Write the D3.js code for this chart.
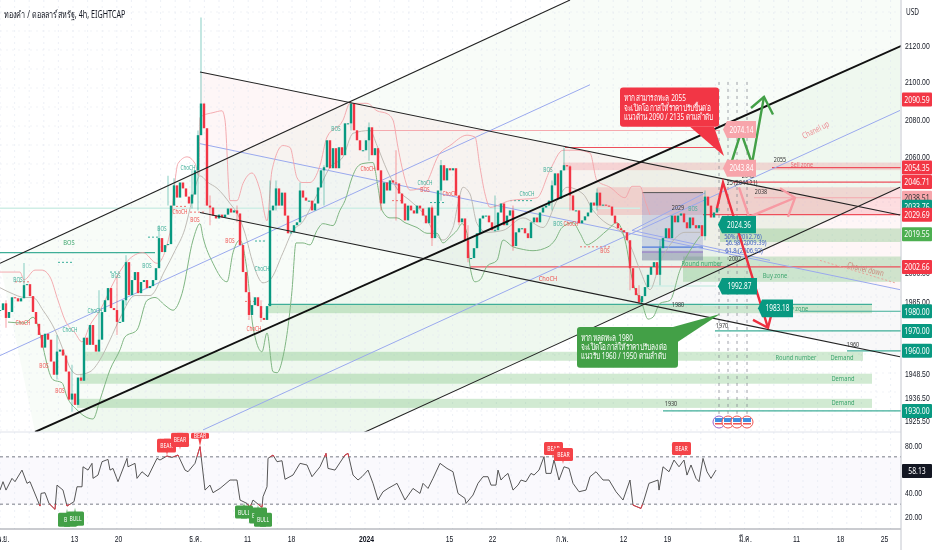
<!DOCTYPE html>
<html>
<head>
<meta charset="utf-8">
<script src="https://cdn.jsdelivr.net/npm/d3@7"></script>
<style>
  html, body { margin: 0; padding: 0; background: #fff; }
  svg { display: block; filter: blur(0.35px); font-family: "Noto Sans", "Liberation Sans", sans-serif; }
  .axis text { fill: #131722; font-size: 9.5px; }
  .axis .domain, .axis line { display: none; }
</style>
</head>
<body>
<svg id="chart" width="932" height="550"></svg>
<script>
// Time is counted in slots along the chart, one candle is three slots
const candleStep = 3;

// Candle closes (each opens at the previous close)
const closes = [
  1980.6,1984,1976.6,1979.6,1987.1,1986.6,1985,1986.6,1993.3,1993.8,1987.7,1979.6,1973.6,1968,1961.6,1968.6,1965.6,1954.6,1948,1959.6,
  1960.6,1957.6,1949.6,1935.6,1938.6,1933,1946.6,1945,1966.6,1963,1973,1963,1959.6,1965.6,1979.6,1985.6,1991.8,1981.6,1980.6,1974.6,
  1974.6,1985.6,2005.1,1988.2,1995.9,2000,1989.2,1994.9,1995.9,1991.8,1992.8,1995.9,2002,2017.5,2010.3,2013.9,2014.4,2034.4,2045,2038.6,
  2046.5,2043.4,2039.1,2035.5,2040.2,2052.9,2071.5,2088.4,2075.2,2034.4,2033.4,2029.2,2027.7,2029.7,2028.2,2029.7,2032.9,2030.8,2031.9,2030.3,
  2013.9,2000,1989.7,1978.1,1983.1,1987.1,1982.6,1976.6,1975.6,1982.6,2031.9,2034.4,2043.4,2034.4,2041.2,2029.2,2020,2020.5,2024.2,2025.7,
  2042.3,2038.6,2037,2037,2031.9,2035.5,2043.9,2052.9,2054.5,2068.8,2054,2064.6,2054,2065.1,2060.9,2077.8,2077.8,2088.4,2074.1,2068.8,
  2063.5,2063.5,2068.8,2075.7,2060.9,2064.6,2052.9,2035.5,2046.5,2042.3,2047.6,2046.5,2046,2040.7,2035.5,2026.7,2034.4,2031.9,2030.3,2034.4,
  2032.9,2029.2,2025.2,2033.4,2017.5,2029.2,2042.3,2055.6,2047.6,2054,2052.9,2054,2039.7,2025.7,2027.7,2016.4,2007.2,2007.2,2012.3,2020,
  2027.7,2029.2,2029.2,2025.7,2021.6,2021.6,2030.8,2035.5,2024.2,2029.2,2031.9,2013.4,2020.5,2022.6,2022.6,2020,2017.5,2025.7,2028.2,2025.7,
  2030.8,2033.4,2034.4,2037,2045,2051.3,2038,2052.9,2055.6,2055,2039.7,2031.9,2031.9,2025.2,2026.7,2028.8,2030.8,2036,2034.4,2041.2,
  2034.4,2034.9,2034.4,2033.9,2029.2,2025.2,2022.6,2021.6,2020.5,2016.4,2002,1991.8,1988.2,1984.6,1987.7,1992.3,1998.6,2002.6,2005.1,1998.6,
  2012.3,2017.5,2022.6,2017.5,2029.2,2025.7,2029.2,2030.3,2025.7,2022.6,2028.2,2024.2,2022.6,2024.2,2018.5,2039.1,2034.4,2028.2,2030.8,2033.4
];

// The wicks that stand out: [candle, high, low]
const wicks = [
  [2,1985.6,1971.6],[8,2004.6,1990.7],[19,1968,1945.6],[24,1953,1929.6],[33,1990.7,1963],[39,1998.4,1968],[42,2008.7,1983],
  [53,2024.2,2005],[56,2050,2034.4],[58,2048.7,2037],[64,2052.9,2032.9],[66,2074,2031.9],[67,2135,2075],[70,2039.7,2024.2],
  [79,2034.4,2025.7],[83,1987.1,1975.6],[87,1985.6,1974.6],[90,2047.6,1983],[92,2047.6,2031.9],[100,2046.5,2034.4],[108,2055.6,2034.4],
  [117,2088.4,2074],[123,2078.3,2058],[127,2048.7,2031.9],[132,2063.5,2026.7],[144,2034.4,2013.4],[147,2058.3,2037],[153,2039.7,2024.2],
  [156,2024.2,2005],[165,2039.7,2021.6],[171,2034.4,2011],[184,2047.6,2031.9],[188,2065,2052.9],[190,2055.6,2031.9],[199,2043.4,2031.9],
  [210,2005,1990.7],[213,1993.3,1983.6],[220,2016.4,1993.3],[235,2042.3,2016.4]
];

// Indicator bands: [slot, price]
const upperBand = [[0,2000],[20,2000],[24,1996],[35,2001],[42,2001],[50,1997.5],[58,1985.5],[65,1975.5],[75,1969],[82,1964.5],[90,1973],[100,1980.5],[115,1996],[128,2006],[143,2010],[157,2004.5],[170,2020.5],[174,2042.5],[178,2056.5],[187,2060],[195,2056.5],[199,2050],[200,2081],[203,2082],[213,2083.5],[222,2084.5],[225,2079.5],[230,2037],[237,2037],[243,2046],[252,2051.5],[260,2042.5],[267,2026.5],[272,2053],[283,2066],[290,2065],[297,2049],[302,2046.5],[310,2046.5],[320,2055.5],[327,2070.5],[343,2079.5],[350,2088.5],[367,2088.5],[377,2084.5],[387,2083],[393,2079.5],[398,2065],[402,2054.5],[410,2042.5],[423,2044],[440,2062],[450,2066],[467,2071.5],[475,2070.5],[480,2054.5],[485,2040.5],[490,2033.5],[510,2037],[537,2038.5],[550,2053],[563,2063.5],[577,2063.5],[590,2062],[597,2047.5],[610,2044],[625,2038.5],[632,2044.5],[640,2044.5],[645,2037],[650,2029.5]];
const middleBand = [[0,1992],[10,1989.5],[25,1987],[33,1987],[43,1980.5],[55,1970.5],[65,1958],[70,1951.5],[78,1948],[90,1949.5],[100,1955.5],[110,1965.5],[120,1976.5],[135,1988],[150,1988],[165,2001],[175,2011],[185,2022.5],[192,2037],[200,2050],[208,2046.5],[217,2043.5],[230,2035.5],[238,2029.5],[245,2020],[253,2004.5],[263,1994.5],[270,1996],[283,2010],[293,2021.5],[302,2025.5],[315,2038],[330,2054.5],[343,2060],[353,2072.5],[370,2074],[377,2066],[387,2053],[398,2042.5],[410,2037],[423,2030.5],[435,2020],[443,2016.5],[453,2023],[458,2035.5],[463,2044],[470,2040.5],[477,2025],[487,2020.5],[503,2021.5],[523,2028],[543,2023],[557,2037],[567,2044],[583,2040.5],[593,2032],[607,2025],[617,2022.5],[630,2014],[640,2001],[650,1991],[660,2005],[670,2014],[685,2020.5],[700,2020.5]];
const lowerBand = [[8,1974.5],[25,1974],[33,1977],[53,1945.5],[62,1944],[67,1937],[77,1930.5],[93,1926],[100,1935.5],[110,1950.5],[120,1960.5],[125,1967],[137,1970.5],[147,1985.5],[155,1987],[165,1983],[173,1980.5],[182,1989],[193,2016.5],[200,2025],[203,2018],[213,2004.5],[227,1995],[233,2010],[240,2016.5],[247,2001],[253,1972],[262,1959.5],[267,1969],[273,1949.5],[277,1949],[283,1957],[292,1990.5],[296,2015],[303,2015],[310,2014],[317,2021.5],[323,2025],[333,2024],[340,2032],[345,2037],[352,2049],[357,2054.5],[363,2056.5],[373,2057],[378,2044],[382,2032],[390,2028],[397,2028],[405,2025.5],[417,2023],[427,2020],[437,2020],[443,2015],[450,2018],[457,2021.5],[462,2025],[467,2020],[470,2003],[475,1995],[480,1996],[487,2003],[497,2006],[503,2016.5],[513,2013],[520,2012],[533,2011],[548,2013],[555,2016.5],[562,2023],[573,2025.5],[580,2020],[587,2014],[593,2015.5],[607,2021.5],[617,2025.5],[625,2016.5],[633,1994.5],[642,1984],[648,1976],[653,1977],[660,1984],[670,1985.5],[680,2001],[690,2011],[700,2018.5]];

// RSI pane: [slot, value]
const rsiLine = [[0,41.9],[3,49],[6,41.9],[12,51.8],[15,49],[22,58.8],[27,47.6],[30,49],[40,28.4],[41,39.1],[45,39.7],[49,30.6],[55,25.6],[57,46.1],[63,41.9],[67,28.4],[74,32.1],[77,44.7],[82,44.7],[83,61.6],[88,58.8],[92,64.5],[93,51.8],[98,54.6],[102,65.9],[108,67.8],[110,58.8],[113,60.2],[118,49],[127,68.7],[128,61.6],[135,64.5],[137,51.8],[142,57.4],[148,53.2],[157,68.7],[160,67.3],[167,70.7],[172,69.5],[178,71.5],[185,58.8],[188,57.4],[195,64.5],[200,78.6],[205,41.9],[210,46.1],[213,39.7],[220,43.3],[230,50.4],[237,50.4],[240,33.5],[247,30.6],[250,27.3],[253,33.5],[262,27.3],[263,36.3],[267,44.7],[268,68.7],[273,71.5],[277,65.9],[282,66.7],[285,51],[293,54.6],[300,64.5],[307,63.1],[312,53.2],[320,61.6],[326,72.9],[328,60.2],[335,58.8],[345,71.5],[348,72.9],[353,54.6],[358,50.4],[362,53.2],[368,58.8],[373,47.6],[378,33.5],[383,40.5],[388,43.3],[397,47.6],[405,33.5],[413,43.3],[420,39.1],[423,47.6],[428,43.3],[433,51.8],[440,64.5],[447,60.2],[453,57.4],[458,39.1],[465,34.9],[466,30.6],[473,37.7],[478,47.6],[483,53.2],[488,53.2],[491,46.1],[496,46.1],[498,58.8],[501,50.4],[504,53.2],[508,56],[513,41.9],[518,46.1],[521,50.4],[526,49],[531,56],[534,54.6],[539,58.8],[544,70.1],[546,56],[551,56],[554,67.3],[559,50.4],[564,61.6],[569,60.2],[573,47.6],[579,40.5],[586,41.9],[590,53.2],[596,57.4],[603,50.4],[609,50.4],[616,40.5],[623,33.5],[630,50.4],[633,29.2],[641,26.4],[644,33.5],[649,47.6],[658,50.4],[659,41.9],[663,61.6],[669,57.4],[674,67.3],[679,61.6],[684,67.3],[687,54.6],[691,63.1],[696,51.8],[699,49],[703,68.7],[707,57.4],[711,51.8],[716,58.8]];

// RSI signal tags: [left slot, right slot, top value, bottom value, tip slot, tip value, text]
const bearTags = [[157,176,85.2,73.6,167,71,"BEAR"],[171,189,90.4,78.3,180,76,"BEAR"],[191,209,90.4,85.2,200,79,"BEAR"],[544,563,82.5,71.5,553,69,"BEAR"],[554,573,77.4,66.4,563,64,"BEAR"],[672,691,82.5,71.5,681,69,"BEAR"]];
const bullTags = [[58,77,22.8,11,67,26.2,"BU"],[67,84,23.7,11.8,75,27,"BULL"],[235,253,28.8,17.8,244,31.5,"BULL"],[249,267,27.1,13.6,258,29.5,"BULL"],[254,272,22.8,11,263,26,"BULL"]];

// Axis ticks
const priceTicks = [2120,2100,2080,2060,2000,1985,1972,1948.5,1936.5,1925.5];
const rsiTicks = [80,40,20];
const timeTickSlots = [3,74,118,195,247,291,366,449,492,562,623,667,745,796,840,884];
const timeTickLabels = ["พ.ย.","13","20","ธ.ค.","11","18","2024","15","22","ก.พ.","12","19","มี.ค.","11","18","25"];

// Price tags on the right axis: [price, text]
const redTags = [[2090.59,"2090.59"],[2054.35,"2054.35"],[2046.71,"2046.71"],[2029.69,"2029.69"],[2002.66,"2002.66"]];
const tealTags = [[2033.76,"2033.76"],[1980,"1980.00"],[1970,"1970.00"],[1960,"1960.00"],[1930,"1930.00"]];

// Channel lines: [slot, price, slot, price]
const thickLine = [35,1919.6,930,2126.5];
const thinLines = [[0,2004.5,570,2144.6],[358,1918,900,2044],[200,2105.4,900,2029.5],[200,2030.8,900,1957]];
const blueLines = [[200,2067,900,1991],[0,1957.6,590,2098.5],[203,1920.6,900,2084.7],[632,2021.5,705,2041],[632,2021.5,770,2006]];

// Zones: [slot, slot, top price, bottom price]
const buyZones = [[268,872,1983.5,1979],[84,863,1959.5,1955],[80,872,1948.5,1943.5],[77,872,1936,1931.5],[683,901,2008,1995],[720,901,2022.5,2015.5]];
const sellZones = [[563,901,2057,2053],[597,901,2044,2033.5],[597,901,2033.5,2029.5]];

// Level lines: [slot, slot, price]
const redLevels = [[565,720,2065],[470,901,2002.66],[772,901,2054.35],[703,901,2029.69],[733,901,2046.71]];
const pinkLevels = [[370,720,2074],[754,901,2038.51]];
const tealLevels = [[0,155,2010],[268,872,1983.5],[800,901,1980],[715,901,1970],[847,901,1960],[663,901,1930]];
const paleLevels = [[0,640,2033],[650,716,1992.87],[703,745,1983]];

// Dashed swing markers: [slot, slot, price]
const redSwings = [[15,30,1995],[176,186,2034],[190,205,2031],[580,610,2013],[392,402,2037],[245,258,1985]];
const tealSwings = [[510,533,2037],[58,72,2005],[110,120,2000],[430,445,2036],[148,160,2018],[255,265,2016]];

// News markers on the time line
const newsSlots = [719,728,737,747];

// Arrows: list of [slot, price]
const redArrow = [[717,2033],[723,2046.5],[768,1971.6]];
const redArrowHead = [[753,1975.6],[768,1971.6],[773,1981.6]];
const greenArrow = [[732,2058],[741,2073],[752,2056.5],[764,2092]];
const greenArrowHead = [[751,2086],[764,2092],[773,2082.5]];
const pinkArrow = [[739,2044],[749,2028.5],[795,2038.5]];
const pinkArrowHead = [[780,2043.5],[795,2038.5],[788,2028.5]];

// Small structure labels: [text, slot, price]
const tealNotes = [["BOS",18,1996],["BOS",116,1998],["BOS",147,2003],["BOS",162,2022.5],["ChoCH",95,1980],["ChoCH",70,1970.5],["ChoCH",262,2001.5],["ChoCH",188,2054.5],["BOS",336,2075],["ChoCH",425,2046.5],["ChoCH",527,2040.5],["BOS",548,2053],["BOS",558,2025],["BOS",693,2033]];
const redNotes = [["ChoCH",180,2031],["BOS",195,2027],["BOS",44,1952.5],["BOS",60,1940],["ChoCH",23,1974],["ChoCH",254,1971],["BOS",230,2016],["ChoCH",368,2053.5],["BOS",425,2042.5],["ChoCH",450,2040.5],["ChoCH",571,2025],["BOS",605,2011]];
// Number notes and zone names: [text, slot, price]
const levelNotes = [["2055",780,2058.5],["2045",748,2050.5],["2038",761,2042],["2029",678,2033.5],["2002",735,2007],["1980",678,1983.5],["1970",722,1973],["1960",853,1963],["1930",671,1933.5],["25 (2044.21)",742,2046.5]];
const zoneNotes = [["BOS",69,2015.5],["Round number",702,2004.5],["Buy zone",775,1998.5],["Buy zone",796,1981.5],["Round number",796,1957],["Demand",842,1957],["Demand",843,1946.5],["Demand",843,1934.5]];
const fibNotes = [["50% (2012.76)",743,2018.7],["56.98 (2009.39)",746,2015.5],["61.8 (2006.92)",744,2011]];

// Projection tags: [text, left slot, right slot, top price, bottom price]
const lightTags = [["2074.14",727,756,2079,2070],["2043.84",727,756,2058.5,2049.5]];
const darkTags = [["2024.36",722,756,2029,2020],["1992.87",722,757,1997,1988.5],["1983.18",762,793,1986,1977]];

// Speech boxes
const redNote = ["หากสามารถทะลุ 2055","จะเปิดโอกาสให้ราคาปรับขึ้นต่อ","แนวต้าน  2090 / 2135 ตามลำดับ"];
const greenNote = ["หากหลุดทะลุ 1980","จะเปิดโอกาสให้ราคาปรับลงต่อ","แนวรับ 1960 / 1950 ตามลำดับ"];

const svg = d3.select("#chart");
const plotRight = 901;

// Scales
const x = d3.scaleLinear().domain([0, plotRight]).range([0, plotRight]);
const y = d3.scaleLog().domain([2120, 1925.5]).range([45, 420]);
const yRsi = d3.scaleLinear().domain([80, 20]).range([445, 516]);

const teal = "#089981", red = "#f23645", green = "#43a047", pink = "#f7a5ab";

svg.append("clipPath").attr("id", "main").append("rect").attr("width", plotRight).attr("height", 432);
svg.append("clipPath").attr("id", "rsiHigh").append("rect").attr("width", plotRight).attr("height", yRsi(70));
svg.append("clipPath").attr("id", "rsiLow").append("rect").attr("y", yRsi(30)).attr("width", plotRight).attr("height", 60);

const pane = svg.append("g").attr("clip-path", "url(#main)");
const poly = pts => pts.map(d => [x(d[0]), y(d[1])].join(",")).join(" ");

// Channel fills
pane.append("polygon").attr("points", poly([[0,2004.5],[570,2144.6],[900,2144.6],[900,2119.5],[35,1919.6]])).attr("fill", "rgba(76,175,80,0.04)");
pane.append("polygon").attr("points", poly([[35,1919.6],[900,2119.5],[900,2044],[358,1918]])).attr("fill", "rgba(76,175,80,0.09)");
pane.append("polygon").attr("points", poly([[200,2105.4],[900,2029.5],[900,1991],[200,2067]])).attr("fill", "rgba(242,54,69,0.045)");
pane.append("polygon").attr("points", poly([[200,2067],[900,1991],[900,1957],[200,2030.8]])).attr("fill", "rgba(120,123,134,0.05)");

// Faint dotted grid
pane.selectAll(".gridV").data(d3.range(0, plotRight, 14.6)).enter().append("line")
  .attr("x1", d => d).attr("x2", d => d).attr("y1", 0).attr("y2", 432)
  .attr("stroke", "#dfe3ee").attr("stroke-opacity", 0.55).attr("stroke-dasharray", "2,4");
pane.selectAll(".gridH").data(d3.range(12, 432, 19)).enter().append("line")
  .attr("x1", 0).attr("x2", plotRight).attr("y1", d => d).attr("y2", d => d)
  .attr("stroke", "#dfe3ee").attr("stroke-opacity", 0.45).attr("stroke-dasharray", "2,4");

// Zones
function drawZones(list, fill) {
  pane.selectAll(null).data(list).enter().append("rect")
    .attr("x", d => x(d[0])).attr("width", d => x(d[1]) - x(d[0]))
    .attr("y", d => y(d[2])).attr("height", d => y(d[3]) - y(d[2]))
    .attr("fill", fill);
}
drawZones(buyZones, "rgba(76,175,80,0.26)");
drawZones(sellZones, "rgba(242,54,69,0.17)");

// Fib box
pane.append("rect").attr("x", x(642)).attr("width", x(703) - x(642)).attr("y", y(2041.2)).attr("height", y(2006) - y(2041.2)).attr("fill", "rgba(92,107,192,0.22)");
pane.append("rect").attr("x", x(642)).attr("width", x(703) - x(642)).attr("y", y(2011)).attr("height", y(2006) - y(2011)).attr("fill", "rgba(120,123,134,0.3)");
pane.append("line").attr("x1", x(642)).attr("x2", x(703)).attr("y1", y(2041.2)).attr("y2", y(2041.2)).attr("stroke", "#555");
pane.append("line").attr("x1", x(642)).attr("x2", x(703)).attr("y1", y(2012.8)).attr("y2", y(2012.8)).attr("stroke", "#4f7bdc").attr("stroke-width", 1.2);
pane.append("line").attr("x1", x(642)).attr("x2", x(703)).attr("y1", y(2010.3)).attr("y2", y(2010.3)).attr("stroke", "#9575cd");

// Level lines
function drawLevels(list, color, width, dash) {
  pane.selectAll(null).data(list).enter().append("line")
    .attr("x1", d => x(d[0])).attr("x2", d => x(d[1]))
    .attr("y1", d => y(d[2])).attr("y2", d => y(d[2]))
    .attr("stroke", color).attr("stroke-width", width).attr("stroke-dasharray", dash || null);
}
drawLevels(paleLevels, "#cfeee6", 1.5);
drawLevels(tealLevels, "#3fae98", 1.2);
drawLevels(pinkLevels, "#f5a9ae", 1.2);
drawLevels(redLevels, "#ee4f5b", 1.1);
drawLevels(redSwings, "#ef5350", 0.8, "2,2");
drawLevels(tealSwings, teal, 0.8, "2,2");

// News verticals
pane.selectAll(".news").data(newsSlots).enter().append("line")
  .attr("x1", d => x(d)).attr("x2", d => x(d)).attr("y1", y(2100)).attr("y2", y(1925.5))
  .attr("stroke", "#787b86").attr("stroke-opacity", 0.7).attr("stroke-dasharray", "3,4");

// Channel lines
function drawSegs(list, color, width) {
  pane.selectAll(null).data(list).enter().append("line")
    .attr("x1", d => x(d[0])).attr("y1", d => y(d[1]))
    .attr("x2", d => x(d[2])).attr("y2", d => y(d[3]))
    .attr("stroke", color).attr("stroke-width", width);
}
drawSegs(blueLines, "#9aa9ee", 1);

// Bands
const bandLine = d3.line().x(d => x(d[0])).y(d => y(d[1])).curve(d3.curveMonotoneX);
pane.append("path").attr("d", bandLine(upperBand)).attr("fill", "none").attr("stroke", "#f3a3a8").attr("stroke-width", 0.9);
pane.append("path").attr("d", bandLine(middleBand)).attr("fill", "none").attr("stroke", "#b9b4ae").attr("stroke-width", 0.9);
pane.append("path").attr("d", bandLine(lowerBand)).attr("fill", "none").attr("stroke", "#7fb582").attr("stroke-width", 1);

// Candles
const isUp = i => i === 0 || closes[i] >= closes[i - 1];
pane.selectAll(".wick").data(wicks).enter().append("line")
  .attr("x1", d => x(d[0] * candleStep)).attr("x2", d => x(d[0] * candleStep))
  .attr("y1", d => y(d[1])).attr("y2", d => y(d[2]))
  .attr("stroke", d => isUp(d[0]) ? teal : red).attr("stroke-opacity", 0.4).attr("stroke-width", 1.2);
pane.selectAll(".candle").data(closes).enter().append("rect")
  .attr("x", (d, i) => x(i * candleStep) - 1.2)
  .attr("width", 2.4)
  .attr("y", (d, i) => y(Math.max(d, i ? closes[i - 1] : d)))
  .attr("height", (d, i) => Math.max(1, Math.abs(y(d) - y(i ? closes[i - 1] : d))))
  .attr("fill", (d, i) => isUp(i) ? teal : red);

drawSegs(thinLines, "#222", 1.1);
drawSegs([thickLine], "#111", 1.9);

// Small notes
function drawNotes(list, color, size) {
  pane.selectAll(null).data(list).enter().append("text")
    .attr("x", d => x(d[1])).attr("y", d => y(d[2])).attr("dy", "0.35em")
    .attr("text-anchor", "middle").attr("font-size", size).attr("fill", color)
    .text(d => d[0]);
}
drawNotes(tealNotes, "#3fae98", 6.5);
drawNotes(redNotes, "#ef5350", 6.5);
drawNotes(levelNotes, "#333", 7.5);
drawNotes(zoneNotes, "#3fa66f", 8);
drawNotes(fibNotes, "#3f5fc4", 8);
drawNotes([["ChoCH",548,1997]], "#ef5350", 8);
drawNotes([["Sell zone",802,2056]], "#e86a73", 7.5);

pane.append("text").attr("transform", `translate(${x(817)},${y(2073)}) rotate(-27)`).attr("text-anchor", "middle")
  .attr("font-size", 8.5).attr("fill", "#ec8f96").text("Chanel up");
pane.append("text").attr("transform", `translate(${x(865)},${y(2000)}) rotate(13)`).attr("text-anchor", "middle")
  .attr("font-size", 8.5).attr("fill", "#c98a7e").text("Chanel down");
pane.append("line").attr("x1", x(820)).attr("y1", y(2006)).attr("x2", x(895)).attr("y2", y(1994.5))
  .attr("stroke", "#e8a39a").attr("stroke-dasharray", "2,2");

// Arrows
const arrowLine = d3.line().x(d => x(d[0])).y(d => y(d[1]));
function drawArrow(path, head, color) {
  [path, head].forEach(p => pane.append("path").attr("d", arrowLine(p)).attr("fill", "none")
    .attr("stroke", color).attr("stroke-width", 2.4));
}
drawArrow(pinkArrow, pinkArrowHead, "#f79aa3");
drawArrow(greenArrow, greenArrowHead, "#43a047");
drawArrow(redArrow, redArrowHead, "#ee2f3f");

// Projection tags with a point on the left
function drawTag(d, fill, color) {
  const [label, x0, x1, top, bottom] = d;
  const mid = (y(top) + y(bottom)) / 2;
  pane.append("polygon")
    .attr("points", [[x(x0) - 4, mid], [x(x0), y(top)], [x(x1), y(top)], [x(x1), y(bottom)], [x(x0), y(bottom)]].join(" "))
    .attr("fill", fill);
  pane.append("text").attr("x", (x(x0) + x(x1)) / 2).attr("y", mid).attr("dy", "0.35em")
    .attr("text-anchor", "middle").attr("font-size", 9).attr("fill", color).text(label);
}
lightTags.forEach(d => drawTag(d, pink, "#fff"));
darkTags.forEach(d => drawTag(d, teal, "#fff"));

// Speech boxes
function drawNote(lines, x0, x1, top, bottom, tail, fill) {
  pane.append("polygon").attr("points", poly(tail)).attr("fill", fill);
  pane.append("rect").attr("x", x(x0)).attr("width", x(x1) - x(x0)).attr("y", y(top)).attr("height", y(bottom) - y(top))
    .attr("rx", 3).attr("fill", fill);
  lines.forEach((t, i) => pane.append("text").attr("x", x(x0) + 4).attr("y", y(top) + 14 + i * 9.2)
    .attr("font-size", 9).attr("fill", "#fff").text(t));
}
drawNote(redNote, 620, 719, 2097, 2076, [[690,2076],[714,2076],[724,2060.5]], "#f23645");
drawNote(greenNote, 577, 678, 1972, 1951.5, [[673,1972],[678,1964.6],[720,1978.6]], "#43a047");

// News icons
const icons = pane.selectAll(".icon").data(newsSlots).enter().append("g")
  .attr("transform", d => `translate(${x(d)},${y(1924.5)})`);
icons.append("circle").attr("r", 6).attr("fill", "#fff").attr("stroke", (d, i) => i ? "#ef5350" : "#9c5fc4");
icons.append("rect").attr("x", -4).attr("y", -4).attr("width", 8).attr("height", 4).attr("fill", "#3f8fe0");
icons.append("rect").attr("x", -4).attr("y", 1).attr("width", 8).attr("height", 1.5).attr("fill", "#ef5350");

// RSI pane
svg.append("rect").attr("x", 0).attr("width", plotRight).attr("y", yRsi(70)).attr("height", yRsi(30) - yRsi(70)).attr("fill", "rgba(126,87,194,0.035)");
svg.selectAll(".gridR").data(d3.range(0, plotRight, 14.6)).enter().append("line")
  .attr("x1", d => d).attr("x2", d => d).attr("y1", 432).attr("y2", 529)
  .attr("stroke", "#dfe3ee").attr("stroke-opacity", 0.55).attr("stroke-dasharray", "2,4");
[70, 30].forEach(v => svg.append("line").attr("x1", 0).attr("x2", plotRight).attr("y1", yRsi(v)).attr("y2", yRsi(v))
  .attr("stroke", "#787b86").attr("stroke-dasharray", "3,3"));
const rsiPath = d3.line().x(d => x(d[0])).y(d => yRsi(d[1]))(rsiLine);
svg.append("path").attr("d", rsiPath).attr("fill", "none").attr("stroke", "#444").attr("stroke-width", 0.9);
["rsiHigh", "rsiLow"].forEach(id => svg.append("path").attr("d", rsiPath).attr("fill", "none")
  .attr("stroke", "#f23645").attr("stroke-width", 0.9).attr("clip-path", `url(#${id})`));

function drawSignal(d, fill) {
  const [x0, x1, top, bottom, tipX, tipV, label] = d;
  const edge = tipV < bottom ? top : bottom;
  svg.append("polygon").attr("points", [[x(tipX) - 3, yRsi(edge)], [x(tipX) + 3, yRsi(edge)], [x(tipX), yRsi(tipV)]].join(" ")).attr("fill", fill);
  svg.append("rect").attr("x", x(x0)).attr("width", x(x1) - x(x0)).attr("y", yRsi(top)).attr("height", yRsi(bottom) - yRsi(top))
    .attr("rx", 1.5).attr("fill", fill);
  svg.append("text").attr("x", (x(x0) + x(x1)) / 2).attr("y", (yRsi(top) + yRsi(bottom)) / 2).attr("dy", "0.35em")
    .attr("text-anchor", "middle").attr("font-size", 7).attr("fill", "#fff").text(label);
}
bearTags.forEach(d => drawSignal(d, "#f44348"));
bullTags.forEach(d => drawSignal(d, "#43a047"));

// Pane separators and title
svg.append("line").attr("x1", 0).attr("x2", plotRight).attr("y1", 432).attr("y2", 432).attr("stroke", "#e0e3eb");
svg.append("line").attr("x1", 0).attr("x2", plotRight).attr("y1", 529).attr("y2", 529).attr("stroke", "#9598a1");
svg.append("line").attr("x1", plotRight).attr("x2", plotRight).attr("y1", 0).attr("y2", 550).attr("stroke", "#c3c6ce");
svg.append("text").attr("x", 4).attr("y", 18).attr("font-size", 10).attr("fill", "#131722").text("ทองคำ / ดอลลาร์สหรัฐ, 4h, EIGHTCAP");
svg.append("text").attr("x", 906).attr("y", 15).attr("font-size", 9).attr("fill", "#131722").text("USD");

// Axes
svg.append("g").attr("class", "axis").attr("transform", `translate(${plotRight},0)`)
  .call(d3.axisRight(y).tickValues(priceTicks).tickFormat(d3.format(".2f")).tickSize(0).tickPadding(4));
svg.append("g").attr("class", "axis").attr("transform", `translate(${plotRight},0)`)
  .call(d3.axisRight(yRsi).tickValues(rsiTicks).tickFormat(d3.format(".2f")).tickSize(0).tickPadding(4));
svg.append("g").attr("class", "axis").attr("transform", "translate(0,529)")
  .call(d3.axisBottom(x).tickValues(timeTickSlots).tickFormat((d, i) => timeTickLabels[i]).tickSize(0).tickPadding(6));
svg.selectAll(".axis text").filter(function () { return this.textContent === "2024"; }).attr("font-weight", "bold");

// Price tags over the axis
function axisTag(yPos, label, fill, color) {
  svg.append("rect").attr("x", plotRight + 1).attr("width", 30).attr("y", yPos - 7).attr("height", 14).attr("rx", 1).attr("fill", fill);
  svg.append("text").attr("x", plotRight + 16).attr("y", yPos).attr("dy", "0.35em").attr("text-anchor", "middle")
    .attr("font-size", 9.5).attr("fill", color).text(label);
}
axisTag(y(2038.51), "2038.51", pink, "#333");
tealTags.forEach(d => axisTag(y(d[0]), d[1], teal, "#fff"));
redTags.forEach(d => axisTag(y(d[0]), d[1], red, "#fff"));
axisTag(y(2019.55), "2019.55", "#4caf50", "#fff");
axisTag(yRsi(58.13), "58.13", "#131722", "#fff");

// The reference text is narrow, squeeze all of it sideways
const squeeze = 0.72;
svg.selectAll("text").each(function () {
  const own = this.getAttribute("transform") || "";
  const left = +this.getAttribute("x") || 0;
  this.setAttribute("x", left / squeeze);
  this.setAttribute("transform", `${own} scale(${squeeze},1)`);
});
</script>
</body>
</html>
